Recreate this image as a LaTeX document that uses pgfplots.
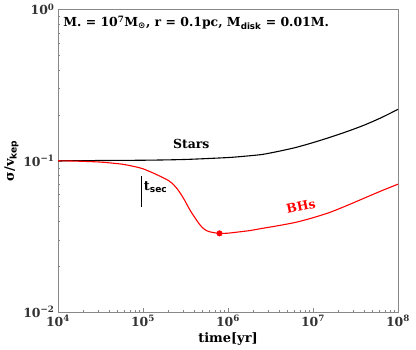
\documentclass[border=0pt]{standalone}
\usepackage{fontspec}
\setmainfont{DejaVu Serif}
\setsansfont{DejaVu Sans}
\usepackage{pgfplots}
\pgfplotsset{compat=1.18}
\definecolor{axgray}{HTML}{888888}
\newcommand{\sub}[1]{\textsubscript{\sffamily\bfseries #1}}
\begin{document}
\begin{tikzpicture}
\useasboundingbox (-58bp,-38bp) rectangle (358bp,312bp);
\begin{axis}[
  scale only axis, width=340bp, height=302.5bp,
  xmode=log, ymode=log,
  xmin=1e4, xmax=1e8, ymin=1e-2, ymax=1,
  axis line style={axgray},
  tick style={axgray},
  tick align=inside, tick pos=left,
  major tick length=4bp, minor tick length=2.5bp,
  xtick={1e4,1e5,1e6,1e7,1e8},
  xticklabels={10\textsuperscript{4},10\textsuperscript{5},10\textsuperscript{6},10\textsuperscript{7},10\textsuperscript{8}},
  ytick={1e-2,1e-1,1},
  yticklabels={10\textsuperscript{−2},10\textsuperscript{−1},10\textsuperscript{0}},
  ticklabel style={font=\fontsize{12.5}{14}\selectfont\bfseries, text=black!80},
  label style={font=\fontsize{13}{14}\selectfont\bfseries},
  xlabel={time[yr]},
  ylabel={σ/v\sub{kep}},
  xlabel style={yshift=1bp},
  ylabel style={yshift=-2bp},
  clip=false,
]
\addplot[black, line width=1.1pt, smooth, tension=0.4] coordinates {
  (1e4,0.100)(1e5,0.1008)(3.162e5,0.102)(1e6,0.105)(1.585e6,0.1072)
  (2.512e6,0.110)(3.981e6,0.1156)(6.31e6,0.1225)(1e7,0.1318)
  (1.585e7,0.1429)(2.512e7,0.156)(3.981e7,0.1718)(6.31e7,0.1923)(1e8,0.2188)
};
\addplot[red, line width=1.1pt, smooth, tension=0.4] coordinates {
  (1e4,0.100)(1.778e4,0.0993)(3.162e4,0.0980)(5.623e4,0.0950)(7.943e4,0.0915)
  (1e5,0.0885)(1.38e5,0.0820)(1.66e5,0.0780)(1.995e5,0.0740)(2.188e5,0.0712)
  (2.512e5,0.0655)(2.851e5,0.0591)(3.162e5,0.0535)(3.412e5,0.0494)
  (3.715e5,0.0455)(4.074e5,0.0421)(4.467e5,0.0390)(4.898e5,0.0366)
  (5.37e5,0.0350)(5.888e5,0.0341)(6.761e5,0.0335)(7.943e5,0.0331)
  (1e6,0.0332)(1.202e6,0.0336)(1.778e6,0.0345)(2.512e6,0.0357)
  (3.981e6,0.0373)(6.31e6,0.0392)(1e7,0.0420)(1.585e7,0.0456)
  (2.512e7,0.0506)(3.981e7,0.0565)(6.31e7,0.0631)(1e8,0.0700)
};
\addplot[red, only marks, mark=*, mark size=2.8pt] coordinates {(7.943e5,0.0331)};
\addplot[black, line width=1pt] coordinates {(9.5e4,0.079)(9.5e4,0.0492)};
\node[anchor=west, font=\fontsize{13}{14}\selectfont\bfseries, inner sep=0pt] at (axis cs:1.02e5,0.0668) {t\sub{sec}};
\node[font=\fontsize{12.5}{14}\selectfont\bfseries] at (axis cs:3.7e5,0.130) {Stars};
\node[font=\fontsize{12.5}{14}\selectfont\bfseries, red, rotate=12] at (axis cs:7.2e6,0.050) {BHs};
\node[anchor=west, font=\fontsize{12.5}{14}\selectfont\bfseries, inner sep=0pt] at (rel axis cs:0.015,0.956)
  {M. = 10\textsuperscript{7}M\sub{⊙}, r = 0.1pc, M\sub{disk} = 0.01M.};
\end{axis}
\end{tikzpicture}
\end{document}
